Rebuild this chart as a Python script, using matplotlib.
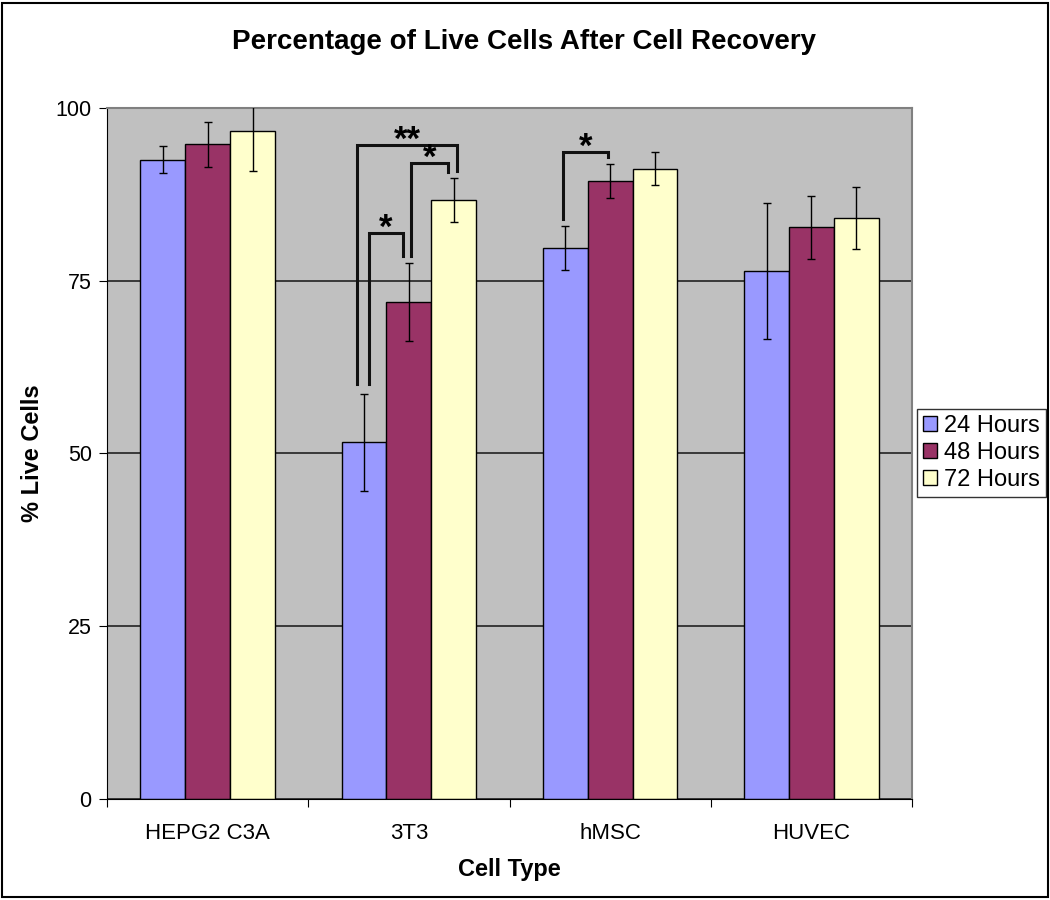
import matplotlib
matplotlib.use('Agg')
import matplotlib.pyplot as plt
import numpy as np

plt.rcParams['font.family'] = ['Liberation Sans', 'DejaVu Sans']

cell_types = ['HEPG2 C3A', '3T3', 'hMSC', 'HUVEC']
series = ['24 Hours', '48 Hours', '72 Hours']
hours_24 = [92.5, 51.6, 79.7, 76.4]
hours_48 = [94.7, 71.9, 89.4, 82.7]
hours_72 = [96.6, 86.7, 91.2, 84.1]
err_24 = [2.0, 7.0, 3.2, 9.9]
err_48 = [3.2, 5.7, 2.5, 4.5]
err_72 = [5.8, 3.2, 2.4, 4.5]
colors = ['#9999FF', '#993366', '#FFFFCC']

# significance brackets: category, left x offset, right x offset,
# left foot, right foot, top, label
brackets = [
    (1, -0.259, 0.240, 60.1, 90.8, 94.6, '**'),
    (1, -0.197, -0.031, 60.1, 78.6, 81.9, '*'),
    (1, 0.010, 0.196, 78.6, 90.7, 92.0, '*'),
    (2, -0.234, -0.009, 83.9, 92.9, 93.6, '*'),
]

fig = plt.figure(figsize=(10.5, 9), dpi=100)
ax = fig.add_axes([0.1019, 0.1122, 0.7667, 0.768])
ax.set_facecolor('#C0C0C0')

x = np.arange(len(cell_types)) + 0.5
w = 0.223
vals = [hours_24, hours_48, hours_72]
errs = [err_24, err_48, err_72]
for i in range(3):
    xs = x + (i - 1) * w
    ax.bar(xs, vals[i], w, color=colors[i], edgecolor='black', linewidth=1,
           label=series[i], zorder=2)
    ax.errorbar(xs, vals[i], yerr=errs[i], fmt='none', ecolor='black',
                elinewidth=1, capsize=3, capthick=1, zorder=3)

for cat, xl, xr, yl, yr, yt, lab in brackets:
    c = x[cat]
    ax.plot([c + xl, c + xl, c + xr, c + xr], [yl, yt, yt, yr],
            color='#111111', linewidth=2.2, zorder=4, solid_joinstyle='miter')
    ax.text(c + (xl + xr) / 2, yt - 0.7, lab, ha='center', va='baseline',
            fontsize=25, fontweight='bold', zorder=5)

ax.set_xlim(0, 4)
ax.set_ylim(0, 100)
ax.set_yticks([0, 25, 50, 75, 100])
ax.yaxis.grid(True, color='#222222', linewidth=1.2)
ax.set_axisbelow(True)
ax.set_xticks([0, 1, 2, 3, 4])
ax.set_xticklabels([])
ax.set_xticks(x, minor=True)
ax.set_xticklabels(cell_types, minor=True)
ax.tick_params(axis='x', which='minor', length=0, pad=17, labelsize=16)
ax.tick_params(axis='x', which='major', length=6, direction='out')
ax.tick_params(axis='y', length=6, direction='out', labelsize=15.5, pad=5)

for s in ['top', 'right']:
    ax.spines[s].set_color('#808080')
    ax.spines[s].set_linewidth(1.5)
ax.spines['left'].set_color('black')
ax.spines['bottom'].set_color('black')

ax.set_xlabel('Cell Type', fontsize=17, fontweight='bold', labelpad=10)
ax.set_ylabel('% Live Cells', fontsize=17, fontweight='bold', labelpad=8)
fig.text(0.499, 0.953, 'Percentage of Live Cells After Cell Recovery',
         ha='center', va='center', fontsize=20, fontweight='bold')

leg = ax.legend(loc='center left', bbox_to_anchor=(917 / 1050, 1 - 453 / 900),
                bbox_transform=fig.transFigure, fontsize=17, frameon=True,
                fancybox=False, edgecolor='black', handlelength=0.6,
                handleheight=0.6, handletextpad=0.3, borderpad=0.25,
                labelspacing=0.2, borderaxespad=0)
leg.get_frame().set_linewidth(1)

fig.patches.append(plt.Rectangle((0.002, 0.003), 0.996, 0.994,
                                 transform=fig.transFigure, fill=False,
                                 edgecolor='black', linewidth=1.5))

fig.savefig('out.png', dpi=100)
